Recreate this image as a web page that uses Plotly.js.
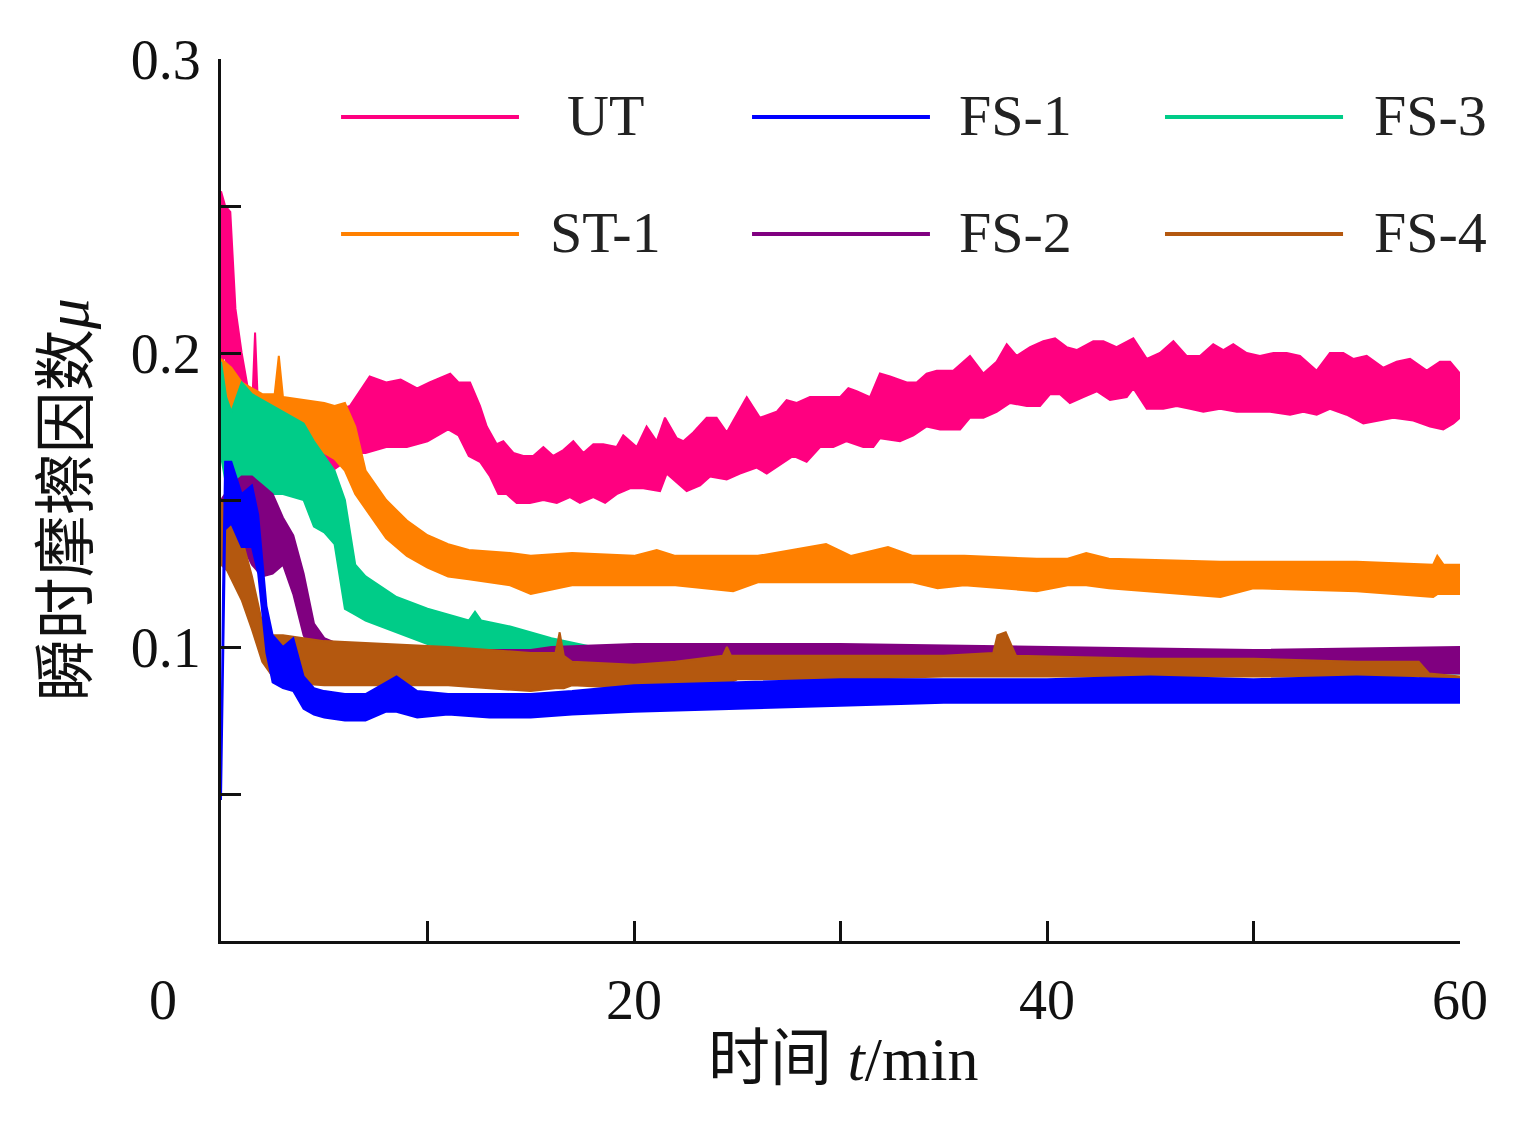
<!DOCTYPE html>
<html>
<head>
<meta charset="utf-8">
<script src="https://cdn.plot.ly/plotly-3.0.1.min.js"></script>
<style>
  html, body { margin: 0; padding: 0; background: #fff; }
  #chart { width: 1525px; height: 1125px; }
</style>
</head>
<body>
<div id="chart"></div>
<script>
// time in minutes, friction coefficient band (lower / upper edge)

// UT (upper and lower edges read at their own times)
const utTHi = [0, 0.2, 0.45, 0.7, 1.0, 1.5, 1.65, 1.8, 2, 3, 4, 5, 5.3, 6.25, 7.2, 8, 8.7, 9.5, 10.1, 11.1, 11.5, 12.06, 12.54, 12.87, 13.35, 13.67, 14.16, 14.64, 15.12, 15.61, 16.09, 16.58, 17.06, 17.55, 18.03, 18.51, 19.16, 19.48, 20.13, 20.61, 21.10, 21.50, 22.07, 22.39, 22.87, 23.52, 24.00, 24.49, 24.81, 25.46, 26.10, 26.91, 27.39, 27.88, 28.52, 29.33, 29.98, 30.38, 30.78, 31.43, 31.91, 32.40, 33.21, 33.69, 34.17, 34.66, 35.46, 36.27, 36.92, 37.56, 38.05, 38.53, 39.18, 39.82, 40.39, 40.95, 41.44, 42.24, 42.73, 43.37, 44.18, 44.83, 45.47, 46.12, 46.76, 47.41, 48.05, 48.54, 49.02, 49.67, 50.31, 50.96, 51.61, 52.25, 53.06, 53.70, 54.35, 54.83, 55.48, 56.29, 56.93, 57.58, 58.39, 59.03, 59.52, 60];
const utHi  = [0.255, 0.250, 0.248, 0.215, 0.200, 0.180, 0.207, 0.180, 0.178, 0.175, 0.180, 0.182, 0.180, 0.182, 0.192, 0.190, 0.191, 0.188, 0.190, 0.193, 0.190, 0.190, 0.182, 0.175, 0.169, 0.170, 0.166, 0.165, 0.165, 0.168, 0.165, 0.167, 0.170, 0.166, 0.169, 0.169, 0.168, 0.172, 0.168, 0.175, 0.170, 0.178, 0.171, 0.170, 0.173, 0.178, 0.178, 0.173, 0.177, 0.185, 0.178, 0.180, 0.184, 0.183, 0.185, 0.185, 0.185, 0.188, 0.187, 0.185, 0.193, 0.192, 0.190, 0.190, 0.193, 0.194, 0.194, 0.199, 0.193, 0.197, 0.203, 0.199, 0.202, 0.204, 0.205, 0.202, 0.201, 0.204, 0.204, 0.202, 0.205, 0.198, 0.200, 0.204, 0.199, 0.199, 0.203, 0.201, 0.203, 0.200, 0.199, 0.200, 0.200, 0.199, 0.194, 0.200, 0.200, 0.198, 0.199, 0.195, 0.197, 0.198, 0.194, 0.197, 0.197, 0.193];
const utTLo = [0, 0.2, 0.45, 0.7, 1.0, 1.5, 2, 3, 4, 5, 6, 6.7, 7, 8, 9, 10, 11, 11.5, 12, 12.54, 13.03, 13.43, 13.83, 14.32, 14.96, 15.61, 16.26, 16.90, 17.38, 18.03, 18.60, 19.16, 19.81, 20.45, 21.26, 21.58, 22.55, 23.20, 23.68, 24.49, 25.13, 25.94, 26.43, 27.07, 27.71, 28.36, 29.01, 29.65, 30.30, 31.10, 31.59, 31.91, 32.88, 33.53, 34.17, 34.82, 35.79, 36.27, 36.92, 37.56, 38.21, 39.02, 39.66, 40.15, 40.63, 41.11, 41.76, 42.41, 43.05, 43.86, 44.18, 44.83, 45.63, 46.28, 46.93, 47.57, 48.38, 49.19, 49.99, 50.80, 51.77, 52.41, 53.06, 53.70, 54.51, 55.32, 55.97, 56.77, 57.74, 58.55, 59.19, 59.68, 60];
const utLo  = [0.195, 0.200, 0.185, 0.170, 0.160, 0.158, 0.152, 0.152, 0.155, 0.158, 0.163, 0.166, 0.166, 0.168, 0.168, 0.170, 0.174, 0.172, 0.165, 0.163, 0.158, 0.152, 0.152, 0.149, 0.149, 0.150, 0.149, 0.151, 0.149, 0.151, 0.149, 0.152, 0.154, 0.154, 0.153, 0.159, 0.153, 0.155, 0.158, 0.157, 0.159, 0.161, 0.159, 0.162, 0.165, 0.163, 0.168, 0.168, 0.170, 0.168, 0.168, 0.171, 0.170, 0.172, 0.175, 0.174, 0.174, 0.178, 0.178, 0.180, 0.183, 0.182, 0.182, 0.186, 0.186, 0.183, 0.185, 0.187, 0.184, 0.185, 0.188, 0.181, 0.181, 0.182, 0.181, 0.180, 0.181, 0.180, 0.180, 0.180, 0.179, 0.180, 0.179, 0.181, 0.179, 0.176, 0.177, 0.178, 0.177, 0.175, 0.174, 0.176, 0.178];

// ST-1
const st1T  = [0, 0.5, 1, 1.5, 2, 2.6, 2.8, 3, 4, 5, 5.5, 6, 6.5, 7, 8, 9, 10, 11, 12, 14, 15, 17, 20, 21.1, 22, 24.8, 26, 29.3, 30.5, 32.3, 33.5, 34.7, 36, 39.5, 41, 41.9, 43, 48.4, 50, 55, 58.7, 58.9, 59.2, 60];
const st1Lo = [0.170, 0.165, 0.165, 0.166, 0.168, 0.168, 0.168, 0.168, 0.167, 0.166, 0.164, 0.160, 0.152, 0.147, 0.137, 0.131, 0.127, 0.124, 0.123, 0.121, 0.118, 0.121, 0.121, 0.121, 0.121, 0.119, 0.122, 0.122, 0.122, 0.122, 0.122, 0.120, 0.121, 0.119, 0.121, 0.121, 0.120, 0.117, 0.120, 0.119, 0.117, 0.118, 0.118, 0.118];
const st1Hi = [0.198, 0.195, 0.190, 0.188, 0.186, 0.186, 0.199, 0.185, 0.184, 0.183, 0.182, 0.183, 0.175, 0.160, 0.150, 0.143, 0.138, 0.135, 0.133, 0.132, 0.131, 0.132, 0.131, 0.133, 0.131, 0.131, 0.131, 0.135, 0.131, 0.134, 0.131, 0.131, 0.131, 0.130, 0.130, 0.132, 0.130, 0.129, 0.129, 0.129, 0.128, 0.131, 0.128, 0.128];

// FS-3
const fs3T  = [0, 0.25, 0.5, 1, 1.5, 2, 3, 4, 4.5, 5, 5.5, 6, 6.5, 7, 8.5, 10, 12, 12.3, 12.6, 14, 16, 18, 20, 30, 40, 50, 60];
const fs3Lo = [0.165, 0.155, 0.150, 0.152, 0.152, 0.152, 0.152, 0.150, 0.141, 0.139, 0.135, 0.113, 0.111, 0.109, 0.105, 0.101, 0.098, 0.099, 0.098, 0.098, 0.097, 0.095, 0.093, 0.092, 0.092, 0.091, 0.091];
const fs3Hi = [0.197, 0.185, 0.180, 0.190, 0.186, 0.184, 0.180, 0.176, 0.170, 0.165, 0.160, 0.150, 0.128, 0.124, 0.117, 0.113, 0.109, 0.112, 0.109, 0.107, 0.103, 0.100, 0.099, 0.098, 0.097, 0.097, 0.096];

// FS-2
const fs2T  = [0, 0.5, 1, 1.5, 2, 2.5, 3, 3.5, 4, 4.5, 5, 6, 10, 15, 16, 20, 30, 40, 50, 60];
const fs2Lo = [0.130, 0.130, 0.135, 0.128, 0.124, 0.125, 0.128, 0.118, 0.104, 0.097, 0.094, 0.090, 0.089, 0.089, 0.092, 0.093, 0.093, 0.092, 0.092, 0.091];
const fs2Hi = [0.150, 0.155, 0.158, 0.158, 0.155, 0.152, 0.144, 0.138, 0.125, 0.108, 0.103, 0.100, 0.099, 0.099, 0.100, 0.101, 0.101, 0.100, 0.099, 0.100];

// FS-4
const fs4T  = [0, 0.3, 1, 1.5, 2, 2.5, 3, 5, 8, 11, 13, 15, 16.2, 16.4, 16.6, 17, 20, 22, 24.3, 24.5, 24.7, 25, 30, 35, 37.4, 37.6, 38, 38.5, 45, 50, 55, 58, 58.5, 60];
const fs4Lo = [0.128, 0.126, 0.116, 0.106, 0.095, 0.090, 0.088, 0.087, 0.087, 0.087, 0.086, 0.085, 0.086, 0.086, 0.086, 0.087, 0.086, 0.087, 0.088, 0.088, 0.088, 0.089, 0.089, 0.090, 0.090, 0.090, 0.090, 0.090, 0.090, 0.090, 0.090, 0.090, 0.088, 0.088];
const fs4Hi = [0.150, 0.146, 0.137, 0.124, 0.108, 0.104, 0.104, 0.102, 0.101, 0.100, 0.099, 0.098, 0.098, 0.105, 0.097, 0.095, 0.094, 0.095, 0.097, 0.100, 0.097, 0.097, 0.097, 0.097, 0.098, 0.104, 0.105, 0.097, 0.096, 0.096, 0.095, 0.095, 0.091, 0.090];

// FS-1
const fs1T  = [0, 0.1, 0.2, 0.5, 1, 1.5, 1.8, 2.2, 2.5, 3, 3.5, 4, 4.5, 5, 6, 7, 8, 8.5, 9.5, 11, 13, 15, 17, 20, 25, 30, 35, 40, 45, 50, 55, 60];
const fs1Lo = [0.048, 0.090, 0.140, 0.142, 0.134, 0.134, 0.125, 0.098, 0.088, 0.086, 0.085, 0.079, 0.077, 0.076, 0.075, 0.075, 0.078, 0.078, 0.076, 0.077, 0.076, 0.076, 0.077, 0.078, 0.079, 0.080, 0.081, 0.081, 0.081, 0.081, 0.081, 0.081];
const fs1Hi = [0.052, 0.120, 0.163, 0.163, 0.152, 0.155, 0.145, 0.114, 0.104, 0.100, 0.103, 0.090, 0.086, 0.085, 0.084, 0.084, 0.088, 0.090, 0.085, 0.084, 0.084, 0.084, 0.085, 0.087, 0.088, 0.089, 0.089, 0.089, 0.090, 0.089, 0.090, 0.089];

const xTickVals = [10, 20, 30, 40, 50, 60];
const xTickText = ['', '20', '', '40', '', '60'];
const yTickVals = [0.05, 0.1, 0.15, 0.2, 0.25, 0.3];
const yTickText = ['', '0.1', '', '0.2', '', '0.3'];

// drawing order = stacking order (last on top)
const series = [
  { name: 'UT',   color: '#ff0080', tHi: utTHi, hi: utHi,  tLo: utTLo, lo: utLo },
  { name: 'ST-1', color: '#ff8000', tHi: st1T,  hi: st1Hi, tLo: st1T,  lo: st1Lo },
  { name: 'FS-3', color: '#00cc88', tHi: fs3T,  hi: fs3Hi, tLo: fs3T,  lo: fs3Lo },
  { name: 'FS-2', color: '#800080', tHi: fs2T,  hi: fs2Hi, tLo: fs2T,  lo: fs2Lo },
  { name: 'FS-4', color: '#b4580f', tHi: fs4T,  hi: fs4Hi, tLo: fs4T,  lo: fs4Lo },
  { name: 'FS-1', color: '#0000ff', tHi: fs1T,  hi: fs1Hi, tLo: fs1T,  lo: fs1Lo }
];

// each noisy record drawn as a filled band between its lower and upper edge
const traces = series.map(s => ({
  x: s.tHi.concat(s.tLo.slice().reverse()),
  y: s.hi.concat(s.lo.slice().reverse()),
  type: 'scatter',
  mode: 'lines',
  fill: 'toself',
  fillcolor: s.color,
  line: { color: s.color, width: 2 },
  name: s.name,
  hoverinfo: 'skip',
  showlegend: false
}));

// legend: 3 columns x 2 rows, drawn by hand
const legendOrder = ['UT', 'FS-1', 'FS-3', 'ST-1', 'FS-2', 'FS-4'];
const colLine = [[0.0969, 0.2405], [0.4286, 0.5722], [0.7619, 0.9056]];
const colText = [0.3107, 0.6416, 0.9758];
const rowY = [0.9342, 0.8016];

const serif = 'Liberation Serif, Times New Roman, Noto Sans CJK SC, serif';
const shapes = [];
const annotations = [];
legendOrder.forEach((name, i) => {
  const s = series.find(d => d.name === name);
  const col = i % 3, row = Math.floor(i / 3);
  shapes.push({
    type: 'line', xref: 'paper', yref: 'paper',
    x0: colLine[col][0], x1: colLine[col][1], y0: rowY[row], y1: rowY[row],
    line: { color: s.color, width: 4 }
  });
  annotations.push({
    xref: 'paper', yref: 'paper', x: colText[col], y: rowY[row] + 0.002,
    xanchor: 'center', yanchor: 'middle', showarrow: false,
    text: name, font: { family: serif, size: 58, color: '#222' }
  });
});

annotations.push(
  { xref: 'paper', yref: 'paper', x: -0.0468, y: -0.067, xanchor: 'center', yanchor: 'middle',
    showarrow: false, text: '0', font: { family: serif, size: 56, color: '#111' } },
  { xref: 'paper', yref: 'paper', x: 0.5024, y: -0.134, xanchor: 'center', yanchor: 'middle',
    showarrow: false, text: '时间 <i>t</i>/min', font: { family: serif, size: 62, color: '#111' } },
  { xref: 'paper', yref: 'paper', x: -0.124, y: 0.5, xanchor: 'center', yanchor: 'middle',
    textangle: -90, showarrow: false, text: '瞬时摩擦因数<i>μ</i>',
    font: { family: serif, size: 62, color: '#111' } }
);

const layout = {
  width: 1525,
  height: 1125,
  margin: { l: 221, r: 65, t: 59, b: 184 },
  paper_bgcolor: '#fff',
  plot_bgcolor: '#fff',
  showlegend: false,
  xaxis: {
    range: [0, 60],
    tickmode: 'array', tickvals: xTickVals, ticktext: xTickText,
    ticks: 'inside', ticklen: 20, tickwidth: 3, tickcolor: '#111',
    showline: true, linewidth: 3, linecolor: '#111',
    showgrid: false, zeroline: false,
    ticklabelstandoff: 8,
    tickfont: { family: serif, size: 56, color: '#111' }
  },
  yaxis: {
    range: [0, 0.3],
    tickmode: 'array', tickvals: yTickVals, ticktext: yTickText,
    ticks: 'inside', ticklen: 20, tickwidth: 3, tickcolor: '#111',
    showline: true, linewidth: 3, linecolor: '#111',
    showgrid: false, zeroline: false,
    ticklabelstandoff: 6,
    tickfont: { family: serif, size: 56, color: '#111' }
  },
  shapes: shapes,
  annotations: annotations
};

Plotly.newPlot('chart', traces, layout, { staticPlot: true });
</script>
</body>
</html>
